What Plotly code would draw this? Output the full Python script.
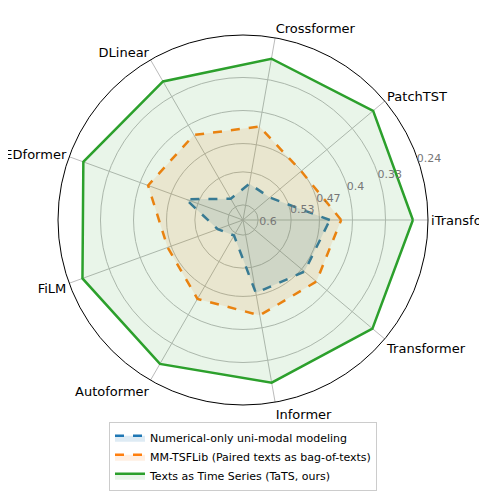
import plotly.graph_objects as go

categories = ["iTransformer", "PatchTST", "Crossformer", "DLinear", "FEDformer",
              "FiLM", "Autoformer", "Informer", "Transformer"]
numerical = [0.448, 0.558, 0.554, 0.58, 0.503, 0.575, 0.594, 0.475, 0.462]
mmtsflib = [0.424, 0.471, 0.431, 0.424, 0.418, 0.462, 0.439, 0.427, 0.429]
tats = [0.272, 0.272, 0.285, 0.293, 0.272, 0.27, 0.28, 0.282, 0.274]
tick_vals = [0.6, 0.53, 0.47, 0.4, 0.33, 0.24]

series = [
    ("Numerical-only uni-modal modeling", numerical, "#1f77b4", "rgba(31,119,180,0.15)", "dash"),
    ("MM-TSFLib (Paired texts as bag-of-texts)", mmtsflib, "#ff7f0e", "rgba(255,127,14,0.12)", "dash"),
    ("Texts as Time Series (TaTS, ours)", tats, "#2ca02c", "rgba(44,160,44,0.10)", "solid"),
]

fig = go.Figure()
for name, vals, col, fill, dash in series:
    fig.add_trace(go.Scatterpolar(
        r=vals + vals[:1], theta=categories + categories[:1], name=name,
        mode="lines", line=dict(color=col, width=2.5, dash=dash),
        fill="toself", fillcolor=fill))

fig.update_layout(
    width=487, height=492, margin=dict(l=50, r=67, t=27, b=95, autoexpand=False),
    paper_bgcolor="white", font=dict(family="DejaVu Sans", size=13, color="black"),
    polar=dict(
        domain=dict(x=[0, 1], y=[0, 1]),
        bgcolor="white",
        angularaxis=dict(rotation=0, direction="counterclockwise", gridcolor="#bbbbbb",
                         linecolor="black", linewidth=1, showline=True, ticks="",
                         tickfont=dict(size=13)),
        radialaxis=dict(range=[0.632, 0.24], tickvals=tick_vals,
                        ticktext=[str(v) for v in tick_vals], angle=22, tickangle=22,
                        gridcolor="#bbbbbb", showline=False, ticks="",
                        tickfont=dict(size=11, color="#777777")),
    ),
    legend=dict(x=0.5, y=-0.14, xanchor="center", yanchor="middle",
                bordercolor="#cccccc", borderwidth=1, font=dict(size=11)),
)
fig.write_html("out.html")
